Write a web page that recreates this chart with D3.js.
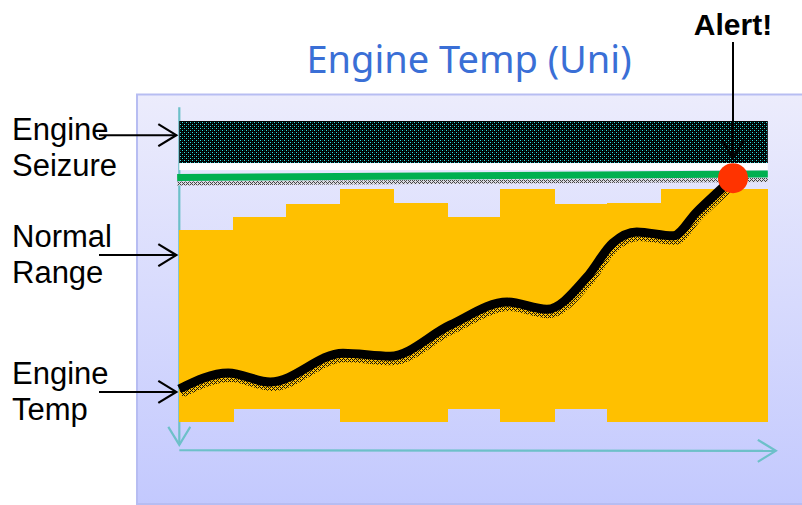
<!DOCTYPE html>
<html>
<head>
<meta charset="utf-8">
<script src="https://cdn.jsdelivr.net/npm/d3@7"></script>
<style>
  html, body { margin: 0; padding: 0; background: #ffffff; }
  svg { display: block; }
</style>
</head>
<body>
<div id="chart"></div>
<script>
// ---------------- data ----------------
const title = "Engine Temp (Uni)";
const periods = [0, 1, 2, 3, 4, 5, 6, 7, 8, 9, 10];
const normalHigh = [63.7, 68.0, 72.5, 77.4, 72.7, 68.0, 77.4, 72.5, 72.8, 77.4, 77.4];
const normalLow  = [0, 4.2, 4.2, 0, 0, 4.2, 0, 4.2, 0, 0, 0];
const seizureBand = [86, 100];
const alertLine = [81.2, 82.4];           // left / right value of the threshold line
const tempTime  = [0, 0.915, 1.70, 3.06, 3.94, 5.06, 6.13, 6.87, 7.62, 8.10, 8.55, 9.23, 9.67, 10.35];
const tempValue = [10.9, 16.2, 13.2, 22.8, 21.8, 32.1, 39.8, 37.4, 48.1, 59.4, 63.1, 61.8, 69.7, 81.0];
const labelLines = [["Engine", "Seizure"], ["Normal", "Range"], ["Engine", "Temp"]];
const labelValues = [95.3, 55.4, 9.9];
const alertText = "Alert!";

// ---------------- layout ----------------
const W = 802, H = 505;
const x = d3.scaleLinear().domain([0, 11]).range([179.3, 767.8]);
const y = d3.scaleLinear().domain([0, 100]).range([421.7, 121]);
const labelShift = [5, -8, -8];

const svg = d3.select("#chart").append("svg")
  .attr("width", W).attr("height", H);

const defs = svg.append("defs");

// background gradient
const grad = defs.append("linearGradient").attr("id", "bg")
  .attr("x1", 0).attr("y1", 0).attr("x2", 0).attr("y2", 1);
grad.append("stop").attr("offset", "0%").attr("stop-color", "#ececfc");
grad.append("stop").attr("offset", "100%").attr("stop-color", "#c3c9fe");

// seizure texture: black with cyan dots
const pSz = defs.append("pattern").attr("id", "seizure")
  .attr("patternUnits", "userSpaceOnUse").attr("width", 4).attr("height", 4);
pSz.append("rect").attr("width", 4).attr("height", 4).attr("fill", "#000");
[[0,0,"#2ee0e0"],[2,2,"#2ee0e0"],[2,0,"#063a3c"],[0,2,"#063a3c"]].forEach(([a,b,c]) =>
  pSz.append("rect").attr("x", a).attr("y", b).attr("width", 1).attr("height", 1).attr("fill", c));

// hatch texture for shadows
const pH = defs.append("pattern").attr("id", "hatch")
  .attr("patternUnits", "userSpaceOnUse").attr("width", 4).attr("height", 4);
[[0,0],[2,0],[1,1],[0,2],[2,2],[3,3]].forEach(([a,b]) =>
  pH.append("rect").attr("x", a).attr("y", b).attr("width", 1).attr("height", 1).attr("fill", "#111"));

const pH2 = defs.append("pattern").attr("id", "hatchGray")
  .attr("patternUnits", "userSpaceOnUse").attr("width", 4).attr("height", 4);
pH2.append("rect").attr("width", 4).attr("height", 4).attr("fill", "#d8d8e0");
[[0,0],[2,0],[1,1],[0,2],[2,2],[3,3]].forEach(([a,b]) =>
  pH2.append("rect").attr("x", a).attr("y", b).attr("width", 1).attr("height", 1).attr("fill", "#444"));

// arrow markers
function marker(id, color) {
  defs.append("marker").attr("id", id)
    .attr("viewBox", "-10 -6 12 12").attr("refX", 0).attr("refY", 0)
    .attr("markerUnits", "userSpaceOnUse")
    .attr("markerWidth", 24).attr("markerHeight", 24)
    .attr("orient", "auto")
    .append("path").attr("d", "M-9,-5.5 L0,0 L-9,5.5")
    .attr("fill", "none").attr("stroke", color).attr("stroke-width", 1.1);
}
marker("arrBlack", "#000");
marker("arrTeal", "#6dc0c9");

// ---------------- panel ----------------
svg.append("rect").attr("x", 137).attr("y", 94.5).attr("width", 670).attr("height", 409.5)
  .attr("fill", "url(#bg)").attr("stroke", "#b7bdf2").attr("stroke-width", 2);

// ---------------- axes (arrows) ----------------
svg.append("line")
  .attr("x1", x(0)).attr("y1", y(104.6)).attr("x2", x(0)).attr("y2", y(-7.7))
  .attr("stroke", "#6dc0c9").attr("stroke-width", 2.2)
  .attr("marker-end", "url(#arrTeal)");
svg.append("line")
  .attr("x1", x(0)).attr("y1", y(-9.5)).attr("x2", x(11.15)).attr("y2", y(-9.7))
  .attr("stroke", "#6dc0c9").attr("stroke-width", 2.2)
  .attr("marker-end", "url(#arrTeal)");

// ---------------- normal range bars ----------------
svg.append("g").attr("shape-rendering", "crispEdges")
  .selectAll("rect").data(periods).join("rect")
  .attr("x", d => Math.round(x(d)))
  .attr("width", d => Math.round(x(d + 1)) - Math.round(x(d)) + (d < 10 ? 1 : 0))
  .attr("y", (d, i) => Math.round(y(normalHigh[i])))
  .attr("height", (d, i) => Math.round(y(normalLow[i])) - Math.round(y(normalHigh[i])))
  .attr("fill", "#ffc000");

// ---------------- seizure band ----------------
svg.append("rect")
  .attr("x", x(0)).attr("width", x(11) - x(0))
  .attr("y", y(seizureBand[1])).attr("height", y(seizureBand[0]) - y(seizureBand[1]))
  .attr("fill", "url(#seizure)");
svg.append("rect")
  .attr("x", x(0)).attr("width", x(11) - x(0))
  .attr("y", y(seizureBand[0])).attr("height", 7)
  .attr("fill", "#ffffff");

// threshold line with textured shadow
svg.append("line")
  .attr("x1", x(-0.04)).attr("y1", y(alertLine[0]) + 6)
  .attr("x2", x(11)).attr("y2", y(alertLine[1]) + 6)
  .attr("stroke", "url(#hatchGray)").attr("stroke-width", 4);
svg.append("line")
  .attr("x1", x(-0.04)).attr("y1", y(alertLine[0]))
  .attr("x2", x(11)).attr("y2", y(alertLine[1]))
  .attr("stroke", "#00b050").attr("stroke-width", 7);

// ---------------- temperature curve ----------------
const pts = tempTime.map((t, i) => [t, tempValue[i]]);
const line = d3.line().x(d => x(d[0])).y(d => y(d[1])).curve(d3.curveMonotoneX);
svg.append("path").attr("d", line(pts))
  .attr("transform", "translate(2,5)")
  .attr("fill", "none").attr("stroke", "url(#hatch)").attr("stroke-width", 8);
svg.append("path").attr("d", line(pts))
  .attr("fill", "none").attr("stroke", "#000").attr("stroke-width", 9)
  .attr("stroke-linecap", "butt");

// alert marker
const last = pts[pts.length - 1];
svg.append("line")
  .attr("x1", x(last[0])).attr("y1", 42)
  .attr("x2", x(last[0])).attr("y2", y(last[1]) - 20)
  .attr("stroke", "#000").attr("stroke-width", 2)
  .attr("marker-end", "url(#arrBlack)");
svg.append("circle")
  .attr("cx", x(last[0])).attr("cy", y(last[1]))
  .attr("r", 15).attr("fill", "#ff3300");

svg.append("text").text(alertText)
  .attr("x", x(last[0])).attr("y", 35)
  .attr("text-anchor", "middle")
  .attr("font-family", "'Liberation Sans', Arial, sans-serif")
  .attr("font-weight", "bold").attr("font-size", 30)
  .attr("fill", "#000");

// ---------------- title ----------------
svg.append("text").text(title)
  .attr("x", 469).attr("y", 73)
  .attr("text-anchor", "middle")
  .attr("font-family", "'Noto Sans', sans-serif")
  .attr("font-size", 38)
  .attr("fill", "#3a6fd6");

// ---------------- side labels ----------------
const lg = svg.append("g");
labelLines.forEach((lines, k) => {
  const yy = y(labelValues[k]);
  const t = lg.append("text")
    .attr("font-family", "'Liberation Sans', Arial, sans-serif")
    .attr("font-size", 31).attr("fill", "#000");
  lines.forEach((s, i) => {
    t.append("tspan").attr("x", 12).attr("y", yy + labelShift[k] + i * 36).text(s);
  });
  lg.append("line")
    .attr("x1", 99).attr("y1", yy).attr("x2", x(0) - 3).attr("y2", yy)
    .attr("stroke", "#000").attr("stroke-width", 2)
    .attr("marker-end", "url(#arrBlack)");
});
</script>
</body>
</html>
